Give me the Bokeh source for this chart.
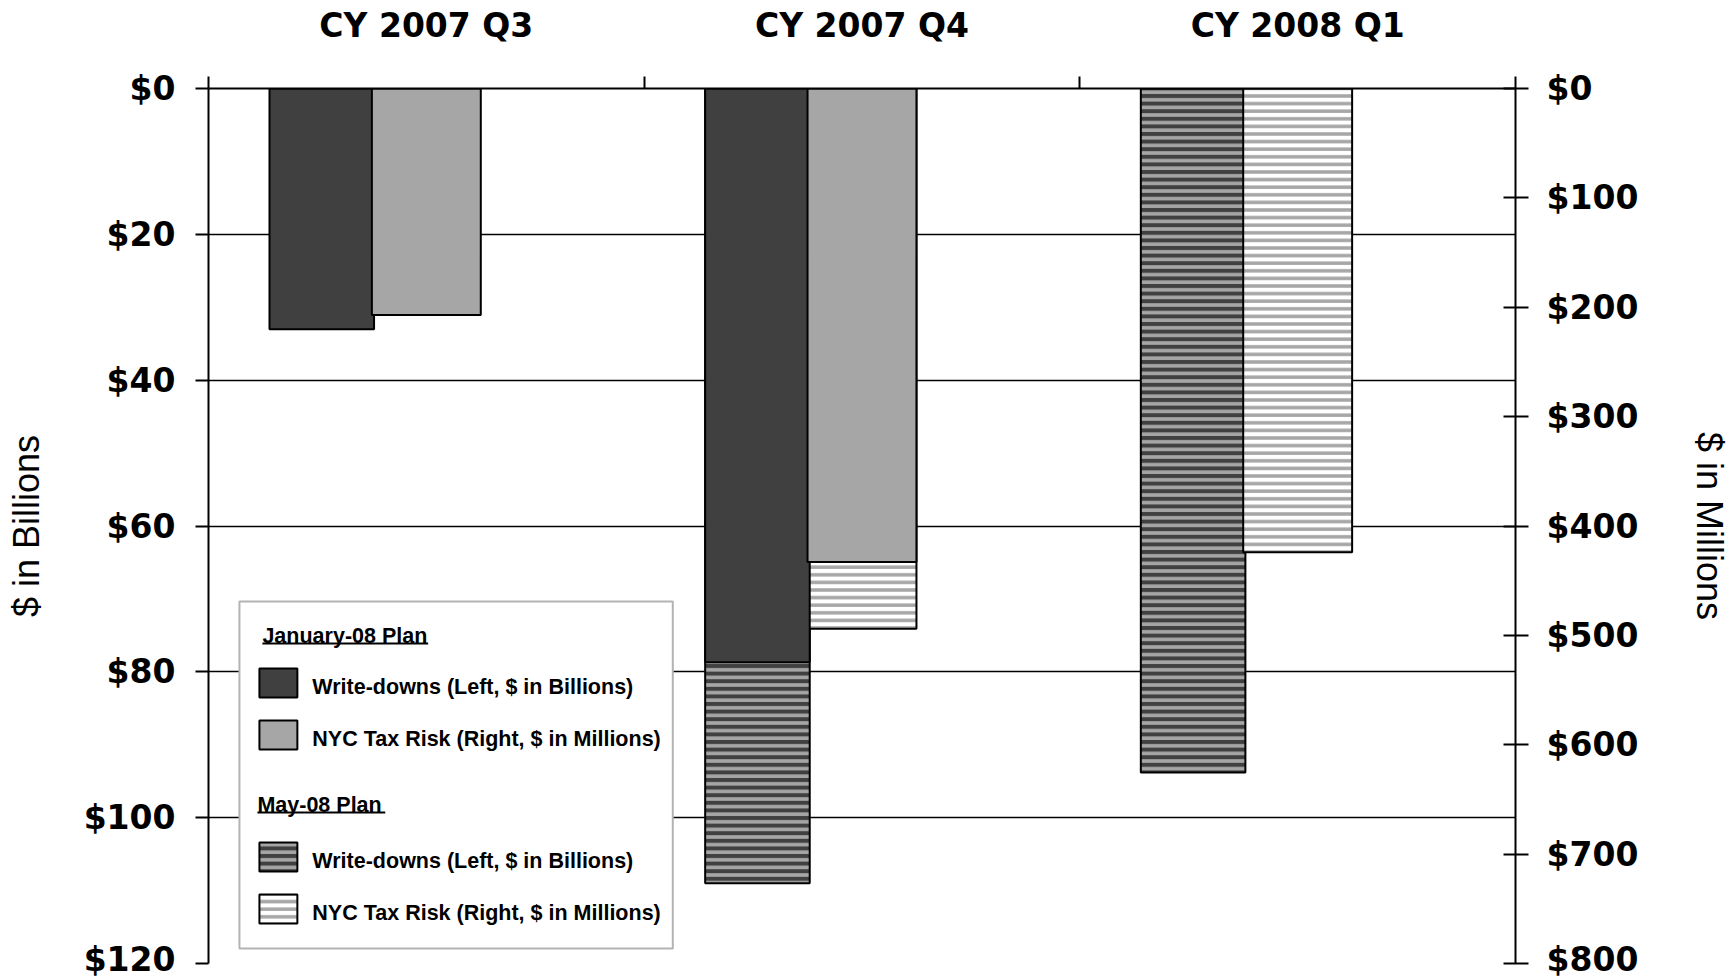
from bokeh.plotting import figure
from bokeh.models import (Range1d, LinearAxis, FixedTicker, PrintfTickFormatter,
                          Grid, ColumnDataSource)
from bokeh.core.properties import value
from bokeh.embed import file_html
from bokeh.resources import INLINE

# ---------------- data ----------------
quarters = ["CY 2007 Q3", "CY 2007 Q4", "CY 2008 Q1"]
jan_writedowns = [33.0, 78.7, None]      # left axis, $ billions
jan_tax_risk = [207.0, 433.0, None]      # right axis, $ millions
may_writedowns = [None, 109.0, 93.8]     # left axis, $ billions
may_tax_risk = [None, 494.0, 424.0]      # right axis, $ millions
left_ticks = [0, 20, 40, 60, 80, 100, 120]
right_ticks = [0, 100, 200, 300, 400, 500, 600, 700, 800]
legend_headers = ["January-08 Plan", "May-08 Plan"]
legend_items = ["Write-downs (Left, $ in Billions)", "NYC Tax Risk (Right, $ in Millions)",
                "Write-downs (Left, $ in Billions)", "NYC Tax Risk (Right, $ in Millions)"]

# ---------------- styles ----------------
DARK = "#404040"
MID = "#a6a6a6"
WD_OFFSET, WD_WIDTH = -0.24, 0.24
TX_OFFSET, TX_WIDTH = 0.0, 0.25
HATCH_SCALE = 7.6

W, H = 1733, 978
ML, MT = 208, 88
MR = W - 1517
MB = H - 963

p = figure(width=W, height=H, x_range=Range1d(0, len(quarters)),
           y_range=Range1d(left_ticks[-1], 0),
           x_axis_location=None, y_axis_location=None,
           output_backend="svg", toolbar_location=None,
           min_border_left=ML, min_border_right=MR,
           min_border_top=MT, min_border_bottom=MB)
p.extra_y_ranges = {"right": Range1d(right_ticks[-1], 0)}
p.outline_line_color = None
p.background_fill_color = "white"
p.border_fill_color = "white"
# drop default grids
p.center = [r for r in p.center if not isinstance(r, Grid)]

# top category axis
top_axis = LinearAxis(
    ticker=FixedTicker(ticks=[i + 0.5 for i in range(len(quarters))],
                       minor_ticks=list(range(len(quarters) + 1))),
    major_label_overrides={i + 0.5: q for i, q in enumerate(quarters)},
    major_tick_out=0, major_tick_in=0,
    minor_tick_out=12, minor_tick_in=0,
    minor_tick_line_color="black", minor_tick_line_width=2,
    axis_line_color="black", axis_line_width=2,
    major_label_standoff=32,
    major_label_text_font="DejaVu Sans", major_label_text_font_style="bold",
    major_label_text_font_size="33px", major_label_text_color="black")
p.add_layout(top_axis, "above")

# left axis
left_axis = LinearAxis(
    ticker=FixedTicker(ticks=left_ticks),
    formatter=PrintfTickFormatter(format="$%d"),
    major_tick_out=13, major_tick_in=0, minor_tick_out=0, minor_tick_in=0,
    major_tick_line_color="black", major_tick_line_width=2,
    axis_line_color="black", axis_line_width=2,
    major_label_standoff=20,
    major_label_text_font="DejaVu Sans", major_label_text_font_style="bold",
    major_label_text_font_size="33px", major_label_text_color="black",
    axis_label="$ in Billions", axis_label_standoff=34,
    axis_label_text_font="Liberation Sans", axis_label_text_font_style="normal",
    axis_label_text_font_size="36px", axis_label_text_color="black")
p.add_layout(left_axis, "left")

# right axis
right_axis = LinearAxis(
    y_range_name="right",
    ticker=FixedTicker(ticks=right_ticks),
    formatter=PrintfTickFormatter(format="$%d"),
    major_tick_out=13, major_tick_in=12, minor_tick_out=0, minor_tick_in=0,
    major_tick_line_color="black", major_tick_line_width=2,
    axis_line_color="black", axis_line_width=2,
    major_label_standoff=18,
    major_label_text_font="DejaVu Sans", major_label_text_font_style="bold",
    major_label_text_font_size="33px", major_label_text_color="black",
    axis_label="$ in Millions", axis_label_standoff=48,
    axis_label_text_font="Liberation Sans", axis_label_text_font_style="normal",
    axis_label_text_font_size="36px", axis_label_text_color="black")
p.add_layout(right_axis, "right")

p.add_layout(Grid(dimension=1, ticker=FixedTicker(ticks=left_ticks),
                  grid_line_color="black", grid_line_width=1.5))


def series_source(vals, offset):
    xs = [i + 0.5 + offset for i, v in enumerate(vals) if v is not None]
    ys = [v for v in vals if v is not None]
    return ColumnDataSource(dict(x=xs, top=ys))


# May-08 plan first (underneath), then January-08 plan on top
p.vbar(x="x", top="top", bottom=0, width=WD_WIDTH,
       source=series_source(may_writedowns, WD_OFFSET),
       fill_color=MID, hatch_pattern="horizontal_line", hatch_color=DARK,
       hatch_scale=HATCH_SCALE, hatch_weight=4,
       line_color="black", line_width=2)
p.vbar(x="x", top="top", bottom=0, width=TX_WIDTH, y_range_name="right",
       source=series_source(may_tax_risk, TX_OFFSET),
       fill_color="white", hatch_pattern="horizontal_line", hatch_color=MID,
       hatch_scale=HATCH_SCALE, hatch_weight=3.5,
       line_color="black", line_width=2)
p.vbar(x="x", top="top", bottom=0, width=WD_WIDTH,
       source=series_source(jan_writedowns, WD_OFFSET),
       fill_color=DARK, line_color="black", line_width=2)
p.vbar(x="x", top="top", bottom=0, width=TX_WIDTH, y_range_name="right",
       source=series_source(jan_tax_risk, TX_OFFSET),
       fill_color=MID, line_color="black", line_width=2)

# ---------------- legend (drawn by hand) ----------------
FW = W - ML - MR
FH = H - MT - MB
X0, Y0 = ML, MT   # page coordinates of frame origin


def dx(px):
    return (px - X0) / (FW / len(quarters))


def dy(py):
    return (py - Y0) / (FH / left_ticks[-1])


p.quad(left=[dx(239)], right=[dx(673)], top=[dy(601)], bottom=[dy(948)],
       fill_color="white", line_color="#b3b3b3", line_width=2)

sw_left, sw_right = dx(259), dx(297)
sw_rows = [683, 735, 857, 909]
sw_styles = [
    dict(fill_color=DARK),
    dict(fill_color=MID),
    dict(fill_color=MID, hatch_pattern="horizontal_line", hatch_color=DARK,
         hatch_scale=HATCH_SCALE, hatch_weight=4),
    dict(fill_color="white", hatch_pattern="horizontal_line", hatch_color=MID,
         hatch_scale=HATCH_SCALE, hatch_weight=3.5),
]
for row, st in zip(sw_rows, sw_styles):
    p.quad(left=[sw_left], right=[sw_right], top=[dy(row - 15)], bottom=[dy(row + 14)],
           line_color="black", line_width=2, **st)

p.text(x=[dx(312)] * 4, y=[dy(r + 3) for r in sw_rows], text=legend_items,
       text_font=value("Liberation Sans"), text_font_style="bold",
       text_font_size=value("21.5px"), text_color="black",
       text_align="left", text_baseline="middle")

hdr_y = [635, 804]
hdr_x = [262, 257]
p.text(x=[dx(v) for v in hdr_x], y=[dy(v) for v in hdr_y], text=legend_headers,
       text_font=value("Liberation Sans"), text_font_style="bold",
       text_font_size=value("21.5px"), text_color="black",
       text_align="left", text_baseline="middle")
p.segment(x0=[dx(262), dx(257)], x1=[dx(428), dx(385)],
          y0=[dy(643), dy(812)], y1=[dy(643), dy(812)],
          line_color="black", line_width=2)

open("out.html", "w").write(file_html(p, INLINE))
